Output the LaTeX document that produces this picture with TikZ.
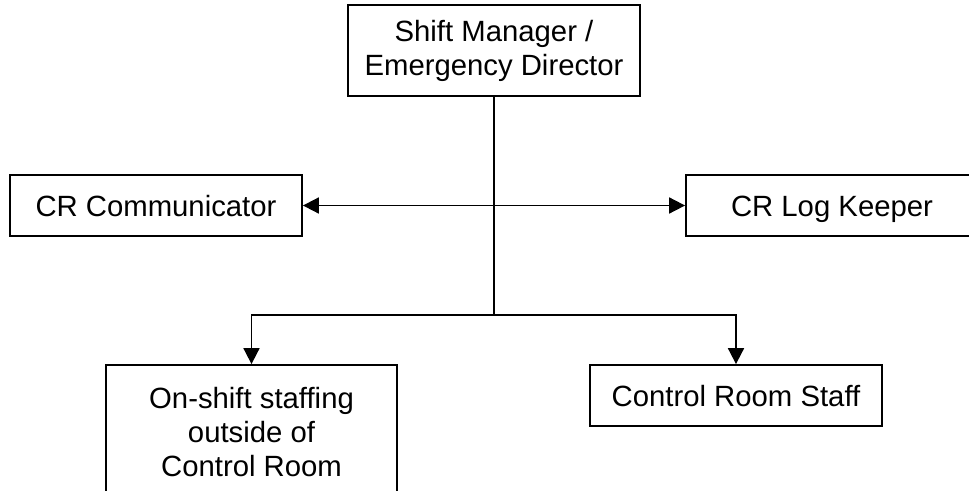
\documentclass[tikz,border=0pt]{standalone}
\usepackage{fontspec}
\setmainfont{Liberation Sans}
\usetikzlibrary{arrows.meta}
\begin{document}
\begin{tikzpicture}[x=1pt,y=-1pt,
  box/.style={draw=black,line width=1.8pt,inner sep=0pt,align=center,
    font=\fontsize{29.3}{34}\selectfont,minimum width=292pt},
  oneline/.style={text height=21pt,text depth=0pt},
  conn/.style={line width=1.8pt},
  tri/.tip={Triangle[length=16pt,width=16pt]},
  tip/.style={-tri}]
\useasboundingbox (0,0) rectangle (969,490);
\node[box,minimum height=91pt] (sm) at (494,50.5) {Shift Manager /\\Emergency Director};
\node[box,oneline,minimum height=61pt] (com) at (156,205.5) {CR Communicator};
\node[box,oneline,minimum height=61pt] (log) at (832,205.5) {CR Log Keeper};
\node[box,oneline,minimum height=61pt] (crs) at (736,395.5) {Control Room Staff};
\node[box,minimum height=134pt,minimum width=291pt] (osf) at (251.5,432) {On-shift staffing\\outside of\\Control Room};
\coordinate (j) at (494,315);
\draw[conn] (sm.south) -- (j);
\draw[conn,tri-tri] (com.east) -- (log.west);
\draw[conn,tip] (j) -| (osf.north);
\draw[conn,tip] (j) -| (crs.north);
\end{tikzpicture}
\end{document}
